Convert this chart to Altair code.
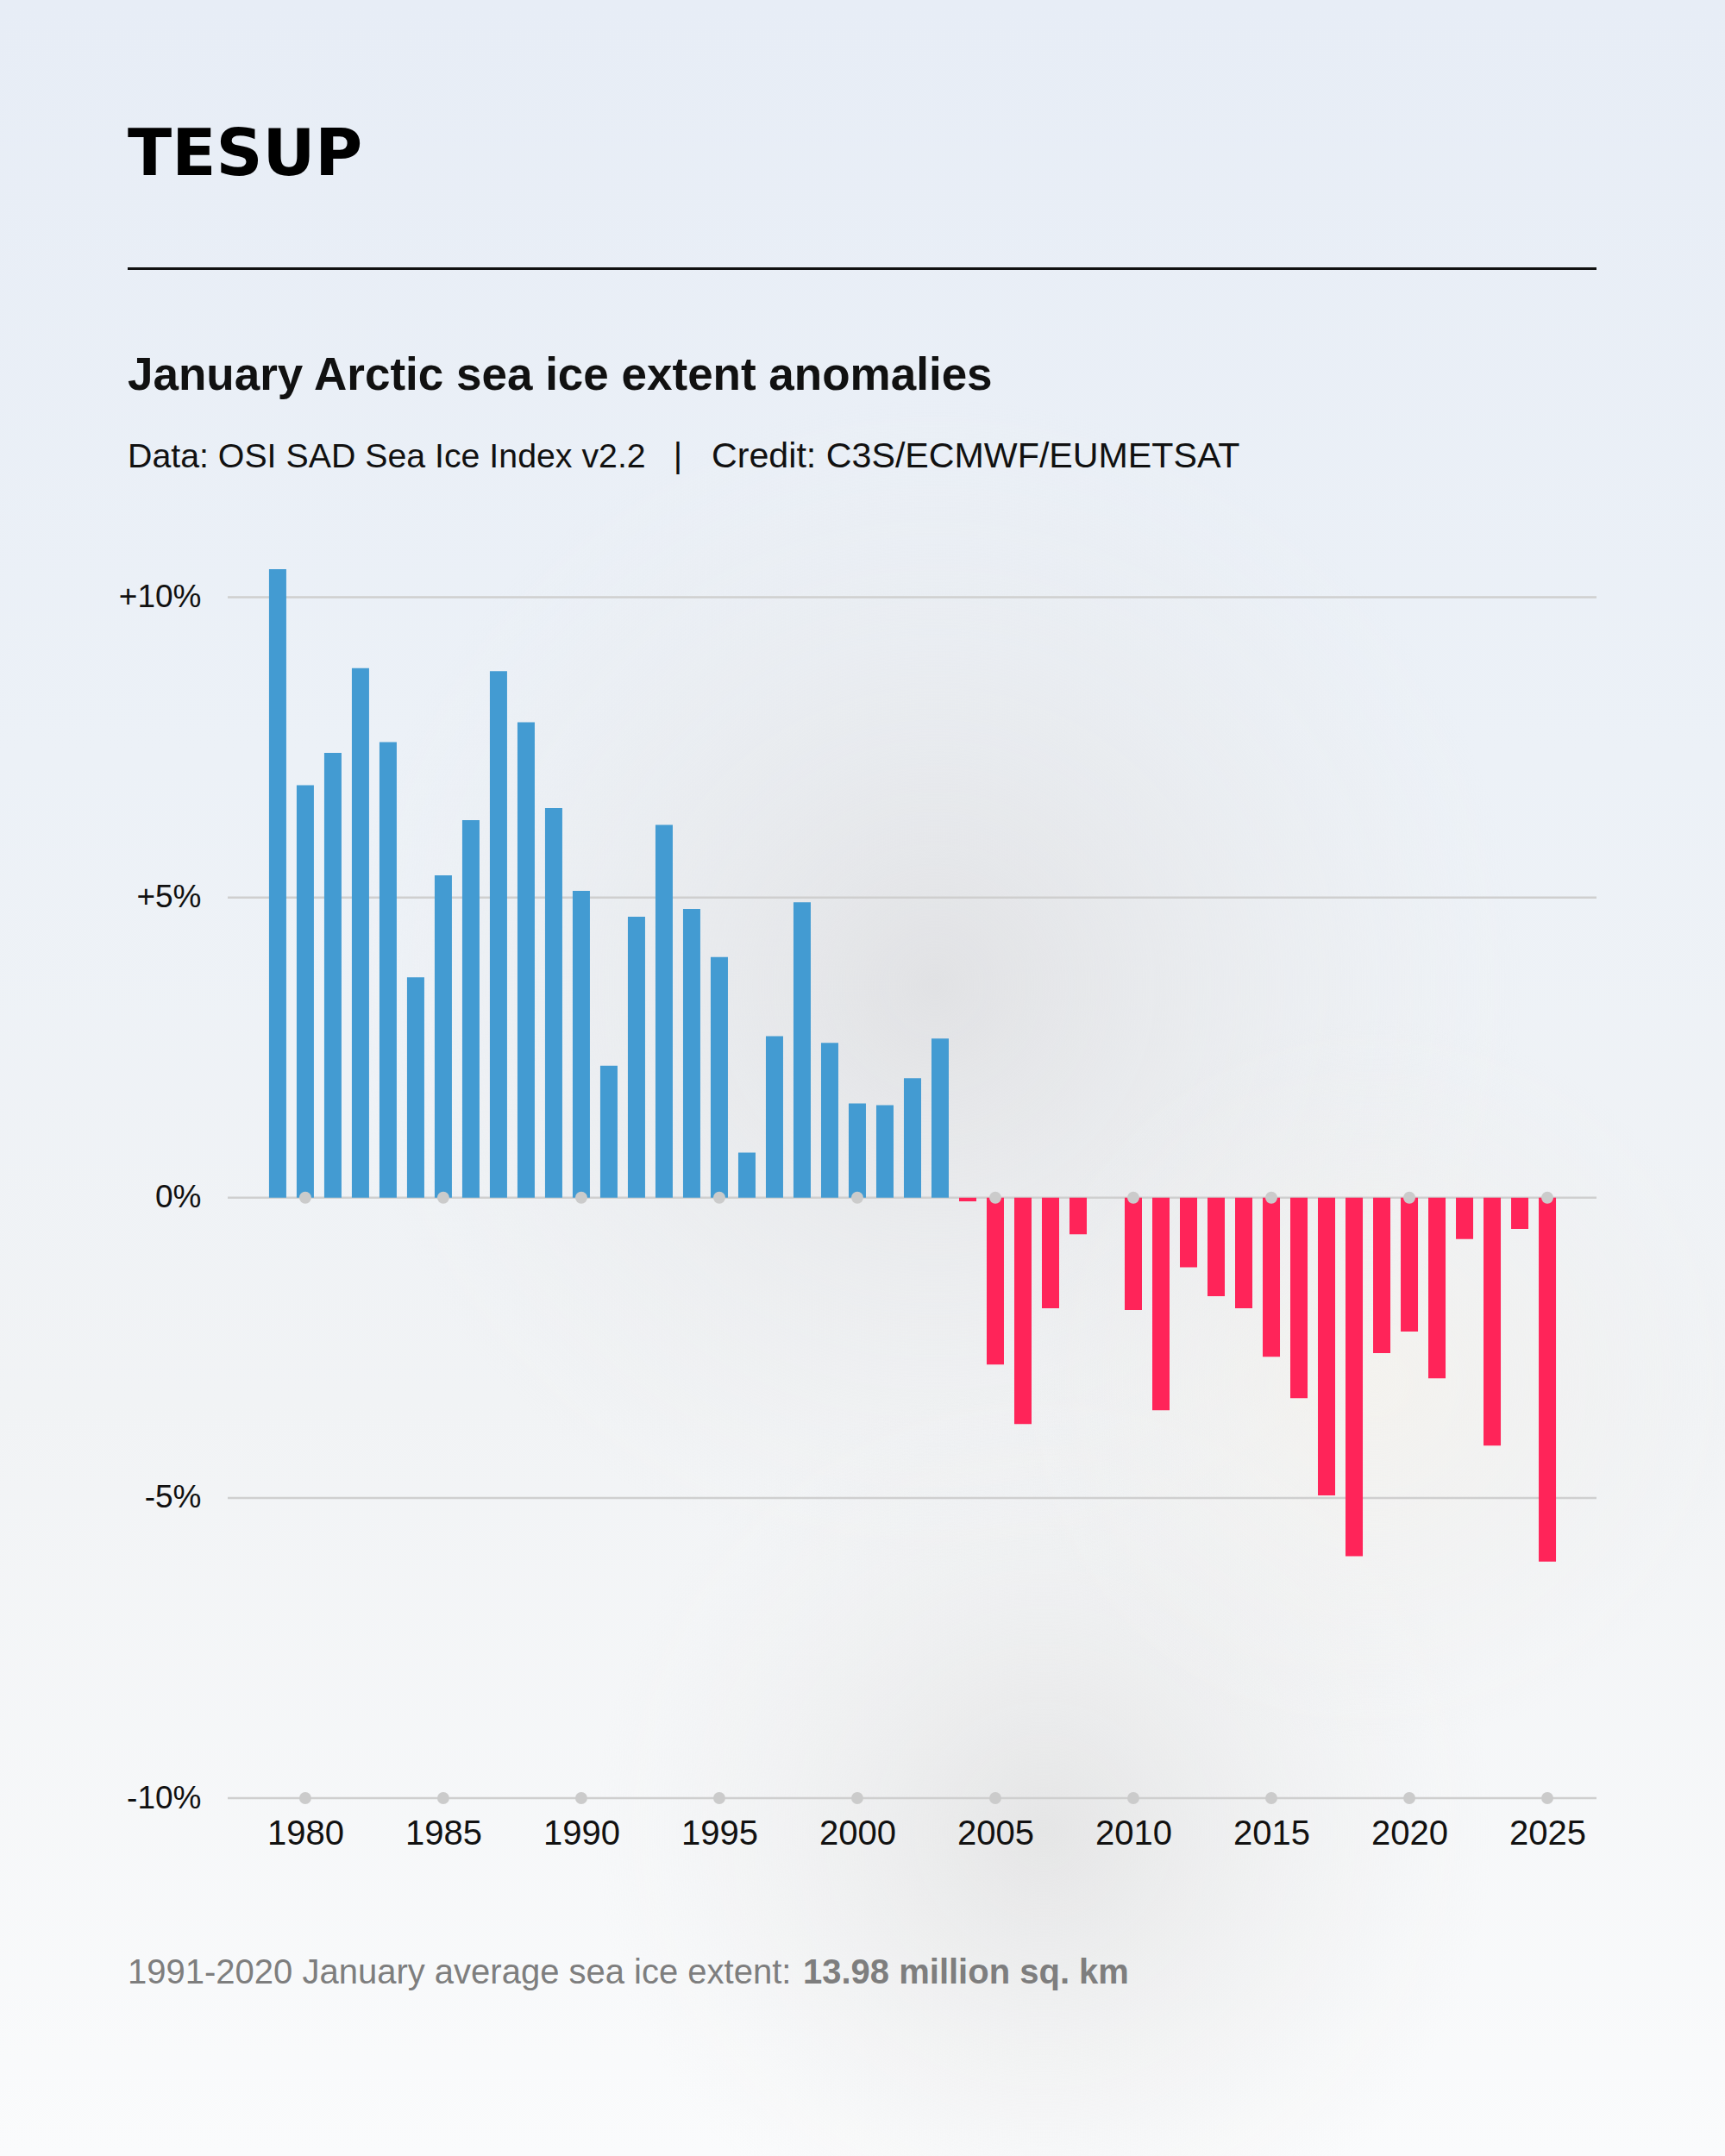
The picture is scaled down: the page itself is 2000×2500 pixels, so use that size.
import altair as alt
import pandas as pd

# January Arctic sea ice extent anomalies (% vs 1991-2020 mean), 1979-2025
years = list(range(1979, 2026))
anomaly = [
    10.47, 6.87, 7.41, 8.82, 7.59, 3.67, 5.37, 6.29, 8.77, 7.92,
    6.49, 5.11, 2.20, 4.68, 6.21, 4.81, 4.01, 0.75, 2.69, 4.92,
    2.58, 1.57, 1.54, 1.99, 2.65, -0.06, -2.78, -3.77, -1.84, -0.61,
    None, -1.87, -3.54, -1.16, -1.64, -1.84, -2.65, -3.34, -4.96, -5.97,
    -2.59, -2.23, -3.01, -0.69, -4.13, -0.52, -6.06,
]
tick_years = list(range(1980, 2030, 5))
grid_levels = [-10, -5, 0, 5, 10]
dot_levels = [0, -10]

brand = "TESUP"
title_text = "January Arctic sea ice extent anomalies"
source_text = "Data: OSI SAD Sea Ice Index v2.2"
separator_text = "|"
credit_text = "Credit: C3S/ECMWF/EUMETSAT"
footer_text = "1991-2020 January average sea ice extent:"
footer_value = "13.98 million sq. km"

BLUE = "#439BD2"
RED = "#FF2459"
GRID = "#CFCFCF"
DOT = "#CBCBCB"
FONT = "Liberation Sans"

W, H = 1587, 1462
PAD = {"left": 264, "top": 623, "right": 149, "bottom": 415}

bars_df = pd.DataFrame({"year": years, "anomaly": anomaly})
grid_df = pd.DataFrame({"level": grid_levels})
dots_df = pd.DataFrame(
    [{"year": y, "level": lv} for y in tick_years for lv in dot_levels]
)
one = pd.DataFrame({"k": [0]})

x_scale = alt.Scale(domain=[1977.19, 2026.78], nice=False, zero=False, padding=0)
y_scale = alt.Scale(domain=[-10, 11], nice=False, padding=0)

x_axis = alt.Axis(
    values=tick_years, format="d", labelFont=FONT, labelFontSize=40,
    labelColor="#111111", labelPadding=21, ticks=False, tickSize=0,
    domain=False, grid=False, labelFlush=False, labelOverlap=False,
    title=None, zindex=1,
)
y_axis = alt.Axis(
    values=grid_levels,
    labelExpr="datum.value > 0 ? '+' + datum.value + '%' : datum.value + '%'",
    labelFont=FONT, labelFontSize=37, labelColor="#111111",
    labelPadding=31, ticks=False, tickSize=0, domain=False, grid=False,
    labelFlush=False, labelOverlap=False, title=None, zindex=1,
)

# full-canvas backdrop, expressed relative to the plot origin
bx0, bx1 = -PAD["left"], W + PAD["right"]
by0, by1 = -PAD["top"], H + PAD["bottom"]

backdrop = alt.Chart(one).mark_rect(
    fill=alt.LinearGradient(
        gradient="linear", x1=0, x2=0, y1=0, y2=1,
        stops=[
            alt.GradientStop(color="#E7EDF6", offset=0),
            alt.GradientStop(color="#ECF1F7", offset=0.35),
            alt.GradientStop(color="#F1F3F5", offset=0.65),
            alt.GradientStop(color="#FAFBFC", offset=1),
        ],
    )
).encode(x=alt.value(bx0), x2=alt.value(bx1), y=alt.value(by0), y2=alt.value(by1))


def haze(cx, cy, r, color):
    return alt.Chart(one).mark_rect(
        fill=alt.RadialGradient(
            gradient="radial", x1=0.5, y1=0.5, r1=0, x2=0.5, y2=0.5, r2=0.5,
            stops=[
                alt.GradientStop(color=color, offset=0),
                alt.GradientStop(color="rgba(235,235,235,0)", offset=1),
            ],
        )
    ).encode(
        x=alt.value(cx - r), x2=alt.value(cx + r),
        y=alt.value(cy - r), y2=alt.value(cy + r),
    )


haze_mid = haze(820, 520, 680, "rgba(222,222,224,0.8)")
haze_low = haze(946, 1500, 520, "rgba(222,222,222,0.7)")
haze_warm = haze(1330, 980, 420, "rgba(246,242,234,0.6)")

gridlines = alt.Chart(grid_df).mark_rule(color=GRID, strokeWidth=2.5).encode(
    y=alt.Y("level:Q", scale=y_scale, axis=y_axis)
)

bars = alt.Chart(bars_df).mark_bar(size=20).encode(
    x=alt.X("year:Q", scale=x_scale, axis=x_axis),
    y=alt.Y("anomaly:Q", scale=y_scale, axis=y_axis),
    color=alt.condition(alt.datum.anomaly > 0, alt.value(BLUE), alt.value(RED)),
)

dots = alt.Chart(dots_df).mark_circle(size=195, color=DOT, opacity=1).encode(
    x=alt.X("year:Q", scale=x_scale, axis=x_axis),
    y=alt.Y("level:Q", scale=y_scale, axis=y_axis),
)


def label(text, x, y, size, weight="normal", color="#111111", font=FONT, align="left"):
    df = pd.DataFrame({"t": [text]})
    return alt.Chart(df).mark_text(
        font=font, fontSize=size, fontWeight=weight, color=color,
        align=align, baseline="alphabetic",
    ).encode(text="t:N", x=alt.value(x), y=alt.value(y))


left = 148 - PAD["left"]
logo = label(brand, left, 203 - PAD["top"], 75, "bold", "#000000", "DejaVu Sans")
header_rule = alt.Chart(one).mark_rule(color="#111111", strokeWidth=3).encode(
    x=alt.value(left), x2=alt.value(1851 - PAD["left"]), y=alt.value(311.5 - PAD["top"])
)
title = label(title_text, left, 452 - PAD["top"], 53, "bold")
source = label(source_text, left, 542 - PAD["top"], 39.3)
separator = label(separator_text, 786 - PAD["left"], 542 - PAD["top"], 40, align="center")
credit = label(credit_text, 825 - PAD["left"], 542 - PAD["top"], 41.2)
footer = label(footer_text, left, 2300 - PAD["top"], 40, color="#7E7E7E")
footer_bold = label(footer_value, 931 - PAD["left"], 2300 - PAD["top"], 40, "bold", "#7E7E7E")

chart = alt.layer(
    backdrop, haze_mid, haze_low, haze_warm, gridlines, bars, dots,
    logo, header_rule, title, source, separator, credit, footer, footer_bold,
).properties(
    width=W, height=H, padding=PAD,
    autosize=alt.AutoSizeParams(type="none"),
    background="#EEF2F6",
).configure_view(stroke=None)

chart.save("out.html", embed_options={"renderer": "svg", "actions": False})
